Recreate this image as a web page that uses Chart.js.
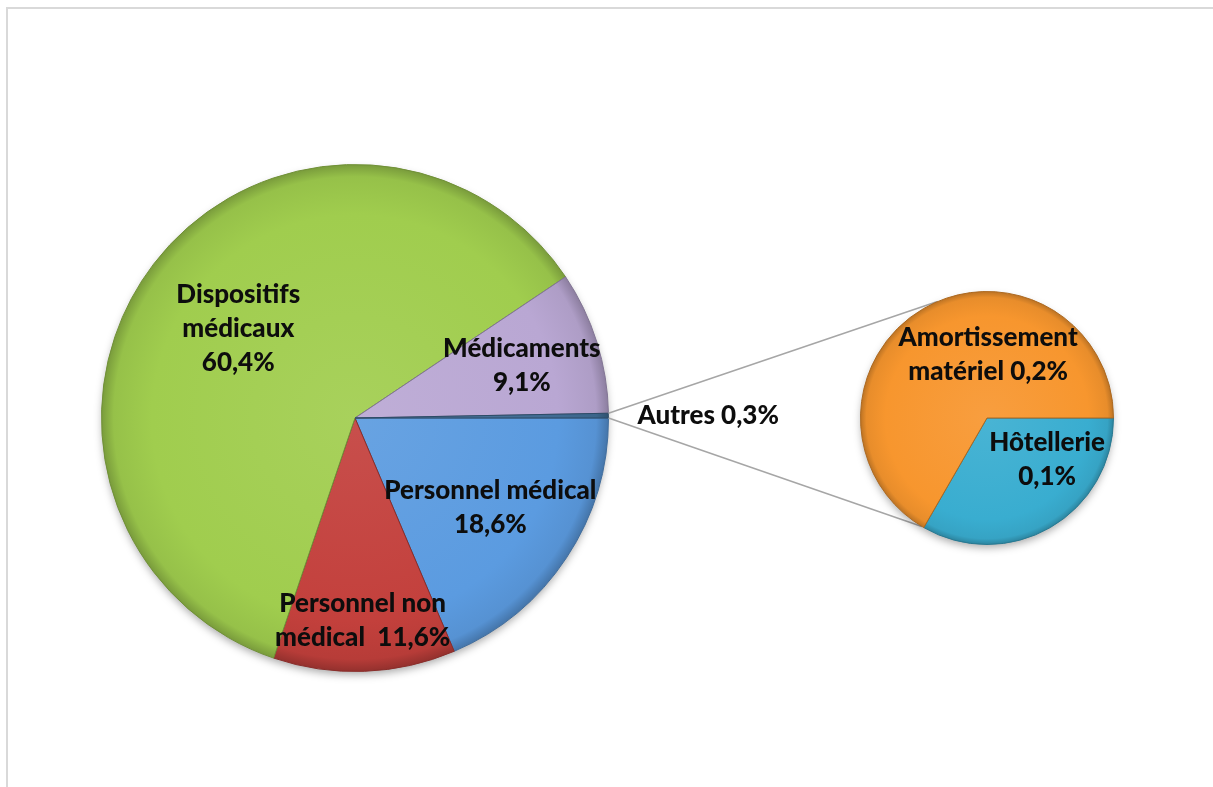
<!DOCTYPE html>
<html>
<head>
<meta charset="utf-8">
<script src="https://cdn.jsdelivr.net/npm/chart.js@4.4.1/dist/chart.umd.min.js"></script>
<style>
  html, body { margin: 0; padding: 0; background: #fff; }
  #wrap { position: relative; width: 1213px; height: 787px; overflow: hidden; }
  #frame { position: absolute; left: 6px; top: 7px; width: 1300px; height: 900px; border-left: 2px solid #d9d9d9; border-top: 2px solid #d9d9d9; }
  canvas { position: absolute; left: 0; top: 0; }
</style>
</head>
<body>
<div id="wrap">
  <div id="frame"></div>
  <canvas id="mainPie" width="1213" height="787"></canvas>
  <canvas id="subPie" width="1213" height="787"></canvas>
</div>
<script>
// données du graphique principal (sens horaire à partir de 3 h)
const mainLabels = ['Personnel médical', 'Personnel non médical', 'Dispositifs médicaux', 'Médicaments', 'Autres'];
const mainValues = [18.6, 11.6, 60.4, 9.1, 0.3];
// texte des étiquettes, {v} = valeur
const mainLabelLines = [['Personnel médical', '{v}'], ['Personnel non', 'médical  {v}'], ['Dispositifs', 'médicaux', '{v}'], ['Médicaments', '{v}'], ['Autres {v}']];

// données du second secteur (détail de "Autres")
const subLabels = ['Hôtellerie', 'Amortissement matériel'];
const subValues = [0.1, 0.2];
const subLabelLines = [['Hôtellerie', '{v}'], ['Amortissement', 'matériel {v}']];

const mainColors = ['#5b9be0', '#c3403c', '#a0cd4e', '#b9a7d3', '#3f6b93'];
const subColors = ['#39add0', '#f7962e'];

// placement des étiquettes : fraction du rayon, angle (null = milieu du secteur)
const mainLabelPlace = [[0.64, null], [0.80, null], [0.58, null], [0.69, null], ['outside', null]];
const subLabelPlace = [[0.58, 35], [0.50, -89]];

const FONT = '900 26px Lato, "Open Sans", sans-serif';
const LINE_H = 34;

function fmt(v) {
  return v.toFixed(1).replace('.', ',') + '%';
}

function shade(hex, amt) {
  const n = parseInt(hex.slice(1), 16);
  let r = (n >> 16) & 255, g = (n >> 8) & 255, b = n & 255;
  const f = c => Math.max(0, Math.min(255, Math.round(amt >= 0 ? c + (255 - c) * amt : c * (1 + amt))));
  return `rgb(${f(r)},${f(g)},${f(b)})`;
}

// dégradé radial pour imiter le relief d'Excel
function gradientFill(colors) {
  return function(context) {
    const chart = context.chart;
    const area = chart.chartArea;
    const base = colors[context.dataIndex];
    if (!area) return base;
    const cx = (area.left + area.right) / 2;
    const cy = (area.top + area.bottom) / 2;
    const r = Math.min(area.width, area.height) / 2;
    const g = chart.ctx.createRadialGradient(cx, cy, 0, cx, cy, r);
    g.addColorStop(0, shade(base, 0.08));
    g.addColorStop(0.8, base);
    g.addColorStop(0.95, shade(base, -0.06));
    g.addColorStop(1, shade(base, -0.25));
    return g;
  };
}

// ombre douce sous le disque
const shadowPlugin = {
  id: 'pieShadow',
  beforeDatasetsDraw(chart) {
    const arc = chart.getDatasetMeta(0).data[0];
    if (!arc) return;
    const ctx = chart.ctx;
    ctx.save();
    ctx.shadowColor = 'rgba(0,0,0,0.35)';
    ctx.shadowBlur = 8;
    ctx.shadowOffsetY = 4;
    ctx.fillStyle = '#888';
    ctx.beginPath();
    ctx.arc(arc.x, arc.y, arc.outerRadius - 1, 0, Math.PI * 2);
    ctx.fill();
    ctx.restore();
  }
};

// étiquettes de données
function labelPlugin(lines, values, places) {
  return {
    id: 'pieLabels',
    afterDatasetsDraw(chart) {
      const ctx = chart.ctx;
      const arcs = chart.getDatasetMeta(0).data;
      ctx.save();
      ctx.font = FONT;
      ctx.fillStyle = '#0d0d0d';
      ctx.textBaseline = 'middle';
      arcs.forEach((arc, i) => {
        const txt = lines[i].map(t => t.replace('{v}', fmt(values[i])));
        const place = places[i];
        const mid = (arc.startAngle + arc.endAngle) / 2;
        let x, y;
        if (place[0] === 'outside') {
          x = arc.x + arc.outerRadius + 29;
          y = arc.y + Math.sin(mid) * arc.outerRadius;
          ctx.textAlign = 'left';
        } else {
          const ang = place[1] === null ? mid : place[1] * Math.PI / 180;
          const r = arc.outerRadius * place[0];
          x = arc.x + Math.cos(ang) * r;
          y = arc.y + Math.sin(ang) * r;
          ctx.textAlign = 'center';
        }
        const top = y - (txt.length - 1) * LINE_H / 2;
        txt.forEach((t, k) => ctx.fillText(t, x, top + k * LINE_H));
      });
      ctx.restore();
    }
  };
}

const mainChart = new Chart(document.getElementById('mainPie'), {
  type: 'pie',
  data: {
    labels: mainLabels,
    datasets: [{
      data: mainValues,
      backgroundColor: gradientFill(mainColors),
      borderColor: mainColors.map(c => shade(c, -0.3)),
      borderWidth: 1
    }]
  },
  options: {
    responsive: false,
    animation: false,
    rotation: 90,
    layout: { padding: { left: 101, right: 604, top: 164, bottom: 115 } },
    plugins: { legend: { display: false }, tooltip: { enabled: false } }
  },
  plugins: [shadowPlugin, labelPlugin(mainLabelLines, mainValues, mainLabelPlace)]
});

// lignes de liaison entre "Autres" et le second secteur
const connectorPlugin = {
  id: 'connectors',
  beforeDatasetsDraw(chart) {
    const other = mainChart.getDatasetMeta(0).data[mainValues.length - 1];
    const sub = chart.getDatasetMeta(0).data[0];
    if (!other || !sub) return;
    const ctx = chart.ctx;
    const ends = [-113, 121];
    const starts = [other.startAngle, other.endAngle];
    ctx.save();
    ctx.strokeStyle = '#a6a6a6';
    ctx.lineWidth = 1.5;
    starts.forEach((a, k) => {
      const b = ends[k] * Math.PI / 180;
      ctx.beginPath();
      ctx.moveTo(other.x + Math.cos(a) * other.outerRadius, other.y + Math.sin(a) * other.outerRadius);
      ctx.lineTo(sub.x + Math.cos(b) * sub.outerRadius, sub.y + Math.sin(b) * sub.outerRadius);
      ctx.stroke();
    });
    ctx.restore();
  }
};

const subChart = new Chart(document.getElementById('subPie'), {
  type: 'pie',
  data: {
    labels: subLabels,
    datasets: [{
      data: subValues,
      backgroundColor: gradientFill(subColors),
      borderColor: subColors.map(c => shade(c, -0.3)),
      borderWidth: 1
    }]
  },
  options: {
    responsive: false,
    animation: false,
    rotation: 90,
    layout: { padding: { left: 860, right: 99, top: 291, bottom: 242 } },
    plugins: { legend: { display: false }, tooltip: { enabled: false } }
  },
  plugins: [connectorPlugin, shadowPlugin, labelPlugin(subLabelLines, subValues, subLabelPlace)]
});
</script>
</body>
</html>
